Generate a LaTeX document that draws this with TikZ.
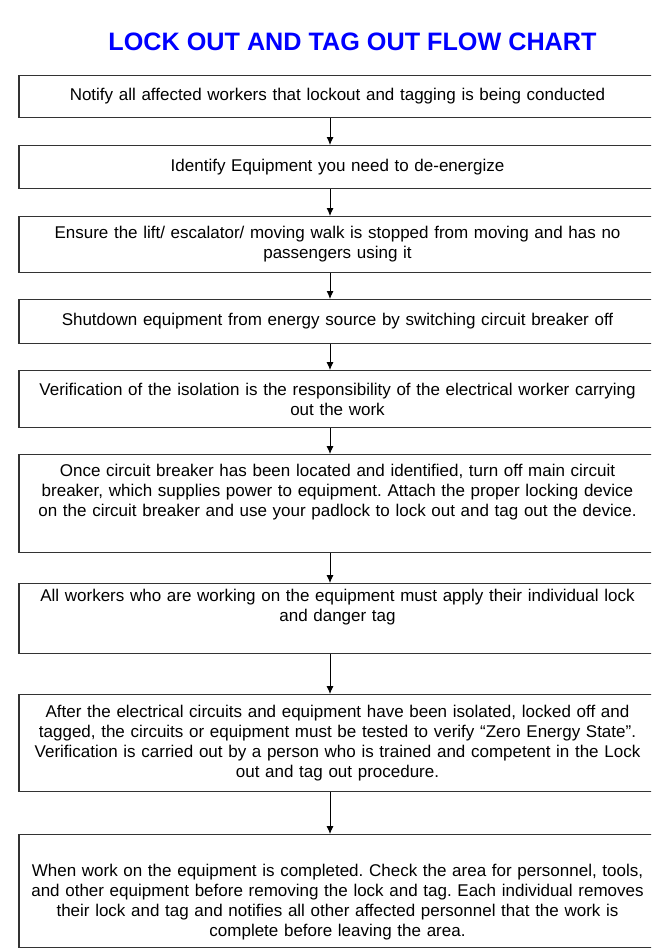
\documentclass[tikz,border=0pt]{standalone}
\usepackage{fontspec}
\setmainfont{Liberation Sans}
\frenchspacing
\usetikzlibrary{positioning,arrows.meta}

\begin{document}
\begin{tikzpicture}
    [
    x=1pt, y=-1pt,
    stage/.style={rectangle,draw=black!80,line width=1.1pt,anchor=north,text width=622pt,align=center,minimum width=637pt,inner sep=3pt,font=\fontsize{17}{20}\selectfont},
    flow/.style={-{Latex[length=8pt,width=7pt]},line width=0.9pt}
    ]
    \clip (0,0) rectangle (651,950);
    \node (title) at (352.5,42) [text=blue,font=\fontsize{25.2}{30}\selectfont\bfseries] {LOCK OUT AND TAG OUT FLOW CHART};
    \node (1) at (337.5,75) [stage,minimum height=42pt] {Notify all affected workers that lockout and tagging is being conducted};
    \node (2) at (337.5,145) [stage,minimum height=43pt] {Identify Equipment you need to de-energize};
    \node (3) at (337.5,216) [stage,minimum height=56pt] {Ensure the lift/ escalator/ moving walk is stopped from moving and has no\\ passengers using it};
    \node (4) at (337.5,299) [stage,minimum height=44pt] {Shutdown equipment from energy source by switching circuit breaker off};
    \node (5) at (337.5,370) [stage,minimum height=57pt] {Verification of the isolation is the responsibility of the electrical worker carrying\\ out the work};
    \node (6) at (337.5,454) [stage,minimum height=98pt] {Once circuit breaker has been located and identified, turn off main circuit\\ breaker, which supplies power to equipment. Attach the proper locking device\\ on the circuit breaker and use your padlock to lock out and tag out the device.\\ \strut};
    \node (7) at (337.5,583) [stage,minimum height=70pt] {All workers who are working on the equipment must apply their individual lock\\ and danger tag\\ \strut};
    \node (8) at (337.5,694) [stage,minimum height=97pt] {After the electrical circuits and equipment have been isolated, locked off and\\ tagged, the circuits or equipment must be tested to verify “Zero Energy State”.\\ Verification is carried out by a person who is trained and competent in the Lock\\ out and tag out procedure.};
    \node (9) at (337.5,834) [stage,minimum height=113pt] {\leavevmode\strut\\ When work on the equipment is completed. Check the area for personnel, tools,\\ and other equipment before removing the lock and tag. Each individual removes\\ their lock and tag and notifies all other affected personnel that the work is\\ complete before leaving the area.};
    \draw [flow] ([xshift=-7.5pt]1.south) to ([xshift=-7.5pt]2.north);
    \draw [flow] ([xshift=-7.5pt]2.south) to ([xshift=-7.5pt]3.north);
    \draw [flow] ([xshift=-7.5pt]3.south) to ([xshift=-7.5pt]4.north);
    \draw [flow] ([xshift=-7.5pt]4.south) to ([xshift=-7.5pt]5.north);
    \draw [flow] ([xshift=-7.5pt]5.south) to ([xshift=-7.5pt]6.north);
    \draw [flow] ([xshift=-7.5pt]6.south) to ([xshift=-7.5pt]7.north);
    \draw [flow] ([xshift=-7.5pt]7.south) to ([xshift=-7.5pt]8.north);
    \draw [flow] ([xshift=-7.5pt]8.south) to ([xshift=-7.5pt]9.north);
  \end{tikzpicture}
\end{document}
